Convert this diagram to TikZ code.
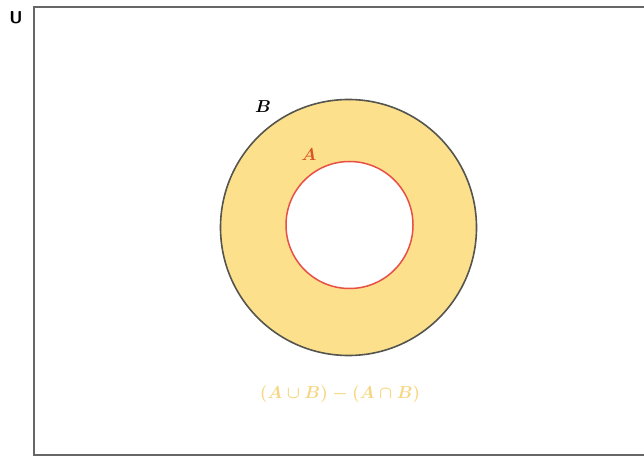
\documentclass[tikz,border=0pt]{standalone}
\usepackage{amsmath}
\usetikzlibrary{positioning}

\definecolor{ringfill}{RGB}{253,224,140}
\definecolor{ringedge}{RGB}{85,85,80}
\definecolor{innerred}{RGB}{232,80,70}
\definecolor{labelA}{RGB}{215,85,40}
\definecolor{formulacol}{RGB}{246,214,130}

\begin{document}
\begin{tikzpicture}[
  x=1pt,y=-1pt,
  universe/.style={draw=black!60, line width=1.8pt},
  setB/.style={circle, draw=ringedge, fill=ringfill, line width=1.6pt, minimum size=256pt, inner sep=0pt},
  setA/.style={circle, draw=innerred, fill=white, line width=1.5pt, minimum size=127pt, inner sep=0pt},
  setlabel/.style={font=\LARGE\boldmath},
  formula/.style={font=\LARGE\boldmath, text=formulacol}
]
\useasboundingbox (0,0) rectangle (644,457);
\clip (0,0) rectangle (644,457);

% universe
\draw[universe] (34,7) rectangle (650,455);
\node[font=\LARGE\sffamily\bfseries] (ulabel) at (16,18) {U};

% the two sets
\node[setB] (B) at (348.5,227.5) {};
\node[setA] (A) at (349.5,225) {};
\node[setlabel] (blabel) at (263,107) {$B$};
\node[setlabel, text=labelA] (alabel) at (309,155) {$A$};

% symmetric difference
\node[formula] (symdiff) at (340,394) {$(A\cup B)-(A\cap B)$};

\end{tikzpicture}
\end{document}
